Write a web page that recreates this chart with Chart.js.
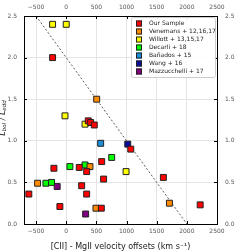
<!DOCTYPE html>
<html>
<head>
<meta charset="utf-8">
<script src="https://cdn.jsdelivr.net/npm/chart.js@4"></script>
<style>
  html, body { margin: 0; padding: 0; background: #fff; }
  #wrap { position: relative; width: 242px; height: 252px; }
</style>
</head>
<body>
<div id="wrap"><canvas id="myChart" width="242" height="252"></canvas></div>
<script>
// Data
const xTicks = [-500, 0, 500, 1000, 1500, 2000, 2500];
const yTicks = [0, 0.5, 1.0, 1.5, 2.0, 2.5];

const groupNames = ["Our Sample", "Venemans + 12,16,17", "Willott + 13,15,17",
  "Decarli + 18", "Bañados + 15", "Wang + 16", "Mazzucchelli + 17"];
const groupColors = ["#ff0000", "#ff8c00", "#ffff00", "#00ff00", "#1a8fdb", "#0a0a9e", "#800080"];

const ourX = [-226, 365, 405, 465, 1070, 588, 216, 339, -204, 620, 1611, 256, -620, 339, -105, 582, 2221];
const ourY = [2.0, 1.24, 1.22, 1.19, 0.90, 0.75, 0.68, 0.63, 0.67, 0.54, 0.56, 0.46, 0.36, 0.36, 0.21, 0.19, 0.23];
const venX = [505, 394, -475, 493, 1711];
const venY = [1.5, 0.69, 0.49, 0.19, 0.25];
const wilX = [-226, 0, -20, 312, 992];
const wilY = [2.4, 2.4, 1.3, 1.2, 0.63];
const decX = [754, 61, 311, -337, -243];
const decY = [0.80, 0.69, 0.71, 0.49, 0.50];
const banX = [571];
const banY = [0.97];
const wangX = [1020];
const wangY = [0.96];
const mazX = [-150, 322];
const mazY = [0.45, 0.12];

const groupX = [ourX, venX, wilX, decX, banX, wangX, mazX];
const groupY = [ourY, venY, wilY, decY, banY, wangY, mazY];

// dashed guide line end points
const lineX = [-500, 2000];
const lineY = [2.5, 0];

const xMin = -700, xMax = 2500, yMin = 0, yMax = 2.5;

function pts(xs, ys) {
  return xs.map((x, i) => ({ x: x, y: ys[i] }));
}

const datasets = groupNames.map((name, i) => ({
  label: name,
  data: pts(groupX[i], groupY[i]),
  pointStyle: 'rect',
  pointRadius: 4.2,
  backgroundColor: groupColors[i],
  borderColor: '#222',
  borderWidth: 1,
  showLine: false
}));

datasets.push({
  label: 'line',
  data: pts(lineX, lineY),
  showLine: true,
  pointRadius: 0,
  borderColor: '#333',
  borderWidth: 0.8,
  borderDash: [2, 2]
});

const tickFont = { family: 'DejaVu Sans', size: 6 };
const tickColor = '#555';
const xFmt = v => (v < 0 ? '\u2212' + Math.abs(v) : String(v));

function fixTicks(list) {
  return function(axis) { axis.ticks = list.map(v => ({ value: v })); };
}

// inward black tick marks + y title + legend
const extras = {
  id: 'extras',
  afterDraw(chart) {
    const ctx = chart.ctx;
    const a = chart.chartArea;
    ctx.save();
    ctx.strokeStyle = '#000';
    ctx.lineWidth = 1;
    ctx.beginPath();
    xTicks.forEach(v => {
      const px = Math.round(chart.scales.x.getPixelForValue(v)) + 0.5;
      ctx.moveTo(px, a.bottom); ctx.lineTo(px, a.bottom - 3);
      ctx.moveTo(px, a.top); ctx.lineTo(px, a.top + 3);
    });
    yTicks.forEach(v => {
      const py = Math.round(chart.scales.y.getPixelForValue(v)) + 0.5;
      ctx.moveTo(a.left, py); ctx.lineTo(a.left + 3, py);
      ctx.moveTo(a.right, py); ctx.lineTo(a.right - 3, py);
    });
    ctx.stroke();

    // y axis title L_bol / L_edd
    ctx.translate(3, 118);
    ctx.rotate(-Math.PI / 2);
    ctx.fillStyle = '#222';
    ctx.textBaseline = 'middle';
    const parts = [['L', 8, 0], ['bol', 5.5, 2], [' / ', 8, 0], ['L', 8, 0], ['edd', 5.5, 2]];
    let w = 0;
    parts.forEach(p => { ctx.font = 'italic ' + p[1] + 'px DejaVu Sans'; w += ctx.measureText(p[0]).width; });
    let cx = -w / 2;
    parts.forEach(p => {
      ctx.font = 'italic ' + p[1] + 'px DejaVu Sans';
      ctx.fillText(p[0], cx, p[2]);
      cx += ctx.measureText(p[0]).width;
    });
    ctx.restore();

    // legend box
    ctx.save();
    const lx = 131, ly = 17, lw = 84, lh = 60;
    ctx.fillStyle = 'rgba(255,255,255,0.85)';
    ctx.strokeStyle = '#ccc';
    ctx.lineWidth = 1;
    ctx.beginPath();
    ctx.roundRect(lx + 0.5, ly + 0.5, lw, lh, 2);
    ctx.fill();
    ctx.stroke();
    ctx.font = '6px DejaVu Sans';
    ctx.textBaseline = 'middle';
    groupNames.forEach((name, i) => {
      const y = ly + 6.5 + i * 8;
      ctx.fillStyle = groupColors[i];
      ctx.fillRect(136, y - 3, 6, 6);
      ctx.strokeStyle = '#222';
      ctx.strokeRect(136.5, y - 2.5, 5, 5);
      ctx.fillStyle = '#222';
      ctx.fillText(name, 149, y);
    });
    ctx.restore();
  }
};

new Chart(document.getElementById('myChart'), {
  type: 'scatter',
  data: { datasets: datasets },
  options: {
    responsive: false,
    animation: false,
    events: [],
    layout: { padding: 0 },
    plugins: { legend: { display: false }, tooltip: { enabled: false } },
    scales: {
      x: {
        type: 'linear', position: 'bottom', min: xMin, max: xMax,
        afterBuildTicks: fixTicks(xTicks),
        afterFit(s) { s.height = 28; },
        grid: { color: '#e4e4e4', drawTicks: false },
        border: { color: '#000', width: 1 },
        ticks: { font: tickFont, color: tickColor, padding: 4, maxRotation: 0, callback: xFmt },
        title: { display: true, text: '[CII] - MgII velocity offsets (km s⁻¹)',
          font: { family: 'DejaVu Sans', size: 8 }, color: '#222', padding: { top: 0, bottom: 0 } }
      },
      x2: {
        type: 'linear', position: 'top', min: xMin, max: xMax,
        afterBuildTicks: fixTicks(xTicks),
        afterFit(s) { s.height = 16; },
        grid: { display: false, drawTicks: false },
        border: { color: '#000', width: 1 },
        ticks: { font: tickFont, color: tickColor, padding: 5, maxRotation: 0, callback: xFmt }
      },
      y: {
        type: 'linear', position: 'left', min: yMin, max: yMax,
        afterBuildTicks: fixTicks(yTicks),
        afterFit(s) { s.width = 24; },
        grid: { color: '#e4e4e4', drawTicks: false },
        border: { color: '#000', width: 1 },
        ticks: { font: tickFont, color: tickColor, padding: 7, callback: v => v.toFixed(1) }
      },
      y2: {
        type: 'linear', position: 'right', min: yMin, max: yMax,
        afterBuildTicks: fixTicks(yTicks),
        afterFit(s) { s.width = 25; },
        grid: { display: false, drawTicks: false },
        border: { color: '#000', width: 1 },
        ticks: { font: tickFont, color: tickColor, padding: 8, callback: v => v.toFixed(1) }
      }
    }
  },
  plugins: [extras]
});
</script>
</body>
</html>
